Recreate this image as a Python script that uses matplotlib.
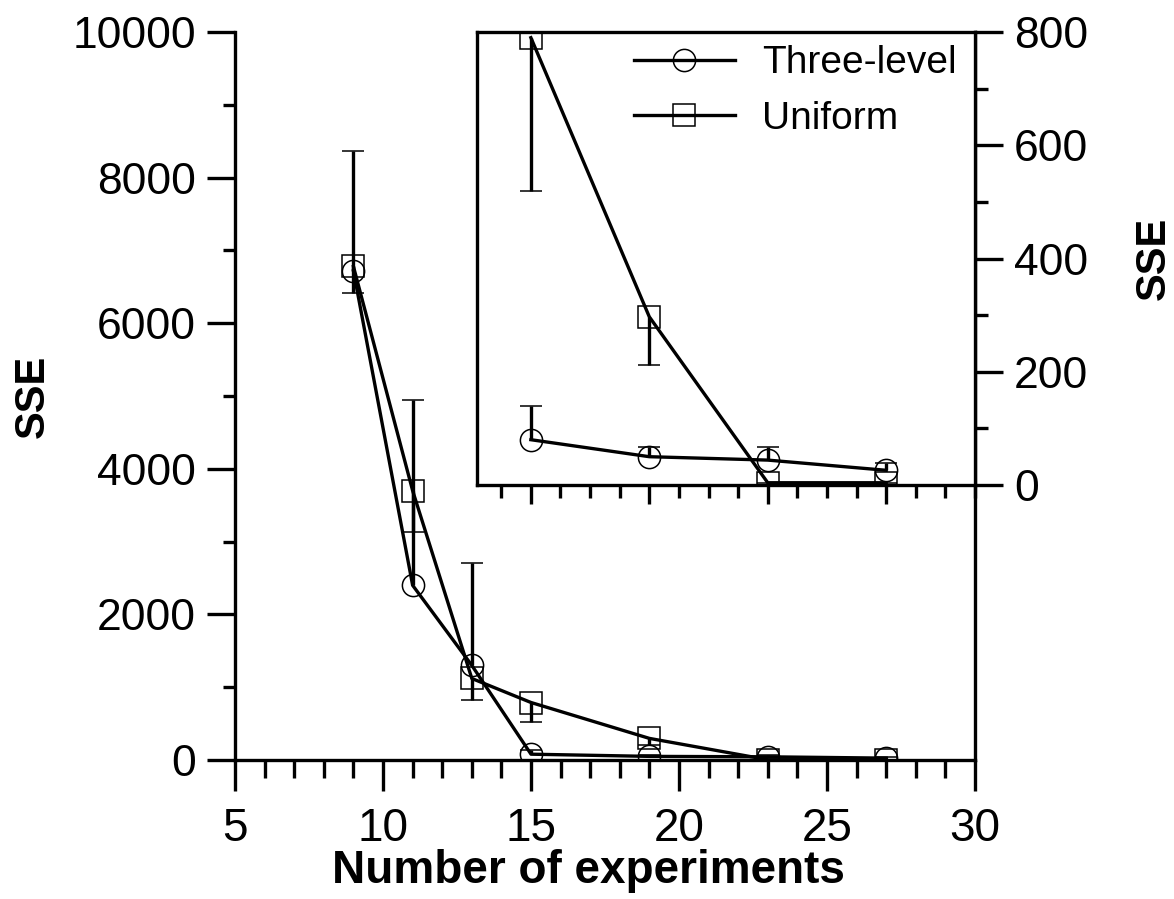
import numpy as np
import matplotlib
matplotlib.use("Agg")
import matplotlib.pyplot as plt
from matplotlib.ticker import MultipleLocator, FixedLocator

plt.rcParams['font.family'] = ['Liberation Sans', 'DejaVu Sans']

# data
n_exp = [9, 11, 13, 15, 19, 23, 27]
three_level = [6720, 2400, 1300, 80, 50, 44, 26]
three_level_up = [1650, 2550, 1400, 60, 17, 23, 13]
uniform = [6780, 3700, 1120, 790, 297, 4, 4]
uniform_low = [370, 570, 300, 270, 85, 0, 0]

fig = plt.figure(figsize=(11.74, 8.99), dpi=100)
ax = fig.add_axes([0.2002, 0.1546, 0.6303, 0.8098])
ins = fig.add_axes([0.4063, 0.4605, 0.4242, 0.5039])

lw = 2.4
mkw = dict(color='black', lw=lw, markersize=16, markerfacecolor='none',
           markeredgewidth=1.1, capsize=8, capthick=lw, elinewidth=lw)


def draw(a, start=0):
    x = n_exp[start:]
    zeros = np.zeros(len(x))
    c1 = a.errorbar(x, three_level[start:], yerr=[zeros, three_level_up[start:]],
                    marker='o', label='Three-level', **mkw)
    c1[1][0].set_visible(False)
    c2 = a.errorbar(x, uniform[start:], yerr=[uniform_low[start:], zeros],
                    marker='s', label='Uniform', **mkw)
    c2[1][1].set_visible(False)
    return c1, c2


draw(ax)
c1, c2 = draw(ins, start=3)

# main axes
ax.set_xlim(5, 30)
ax.set_ylim(0, 10000)
ax.spines['top'].set_visible(False)
for s in ['left', 'bottom', 'right']:
    ax.spines[s].set_linewidth(lw)
ax.xaxis.set_major_locator(MultipleLocator(5))
ax.xaxis.set_minor_locator(MultipleLocator(1))
ax.yaxis.set_major_locator(MultipleLocator(2000))
ax.yaxis.set_minor_locator(MultipleLocator(1000))
ax.tick_params(which='both', direction='out', width=lw, right=False, top=False)
ax.tick_params(which='major', length=22)
ax.tick_params(which='minor', length=13)
ax.tick_params(axis='y', which='major', length=20, labelsize=32, pad=8)
ax.tick_params(axis='y', which='minor', length=9)
ax.tick_params(axis='x', labelsize=33, pad=12)
ax.set_xlabel('Number of experiments', fontsize=33, fontweight='bold')
ax.xaxis.set_label_coords(0.478, -0.122)
ax.set_ylabel('SSE', fontsize=30, fontweight='bold', labelpad=14)

# inset
ins.set_xlim(13.18, 30)
ins.set_ylim(0, 800)
for s in ins.spines.values():
    s.set_linewidth(lw)
ins.xaxis.set_major_locator(FixedLocator([15, 19, 23, 27]))
ins.xaxis.set_minor_locator(MultipleLocator(1))
ins.yaxis.set_major_locator(MultipleLocator(200))
ins.yaxis.set_minor_locator(MultipleLocator(100))
ins.tick_params(axis='x', which='both', direction='out', width=lw,
                labelbottom=False)
ins.tick_params(axis='x', which='major', length=14)
ins.tick_params(axis='x', which='minor', length=9)
ins.tick_params(axis='y', which='both', direction='out', width=lw,
                left=False, labelleft=False, right=True, labelright=True,
                labelsize=32)
ins.tick_params(axis='y', which='major', length=20, pad=8)
ins.tick_params(axis='y', which='minor', length=9)
ins.yaxis.set_label_position('right')
ins.set_ylabel('SSE', fontsize=30, fontweight='bold', rotation=90, labelpad=33)

ins.legend(handles=[c1[0], c2[0]], labels=['Three-level', 'Uniform'],
           loc='upper right', frameon=False, fontsize=28, handlelength=2.6,
           handletextpad=0.7, borderaxespad=0.2, labelspacing=0.5,
           bbox_to_anchor=(1.01, 1.022))

fig.savefig('out.png', dpi=100)
